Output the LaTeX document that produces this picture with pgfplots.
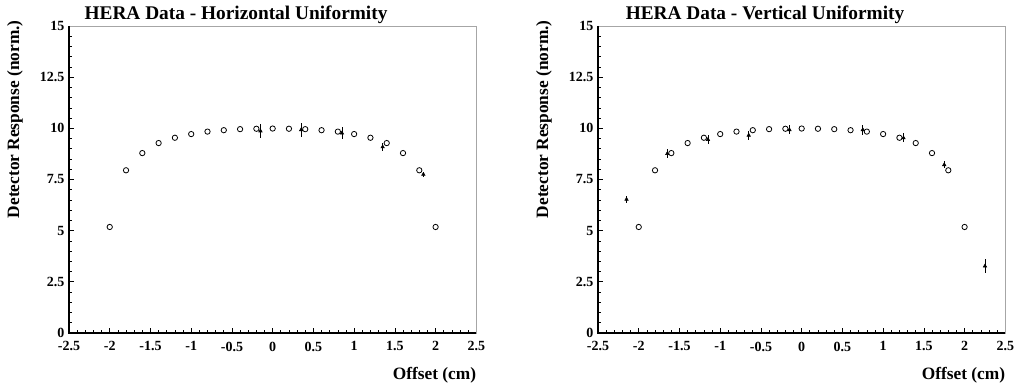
\documentclass[border=0pt]{standalone}
\usepackage{pgfplots}
\pgfplotsset{compat=1.18}
\usepackage{fontspec}
\setmainfont{Liberation Serif}

\tikzset{plottitle/.style={anchor=base, inner sep=0pt, font=\fontsize{14.5}{16}\selectfont\bfseries}}

\pgfplotsset{
  herastyle/.style={
    scale only axis,
    width=305.5pt, height=230.25pt,
    xmin=-2.5, xmax=2.5, ymin=0, ymax=15,
    xtick={-2.5,-2,-1.5,-1,-0.5,0,0.5,1,1.5,2,2.5},
    xticklabels={-2.5,-2,-1.5,-1,-0.5,0,0.5,1,1.5,2,2.5},
    ytick={0,2.5,5,7.5,10,12.5,15},
    yticklabels={0,2.5,5,7.5,10,12.5,15},
    minor x tick num=4, minor y tick num=4,
    tick align=inside, xtick pos=bottom, ytick pos=left,
    major tick length=3.5pt, minor tick length=2pt,
    every tick/.style={black, line width=0.5pt},
    tick label style={font=\fontsize{10.5}{12}\selectfont\bfseries},
    xticklabel style={yshift=-3pt},
    axis line style={gray!70, line width=0.6pt},
    label style={font=\fontsize{13}{15}\selectfont\bfseries},
    xlabel={Offset (cm)},
    xlabel style={at={([yshift=-35.25pt]rel axis cs:1,0)}, anchor=base east, inner sep=0pt},
    ylabel={Detector Response (norm.)},
    ylabel style={at={([xshift=-34.5pt,yshift=4.5pt]rel axis cs:0,1)}, anchor=south east, inner sep=0pt},
    clip=false,
  },
  simplot/.style={only marks, mark=o, mark size=2pt, black, mark options={line width=0.6pt}},
  meas/.style={only marks, mark=triangle*, mark size=1.5pt, black,
    error bars/.cd, y dir=both, y explicit, error mark=none,
    error bar style={line width=0.6pt, black}},
}

\begin{document}
\begin{tikzpicture}
\useasboundingbox (0,0) rectangle (760.5pt,288.75pt);

% ---- horizontal scan ----
\begin{axis}[herastyle, at={(51.75pt,39pt)}, anchor=south west]
\addplot[simplot] table {
-2.0 5.18
-1.8 7.95
-1.6 8.79
-1.4 9.28
-1.2 9.54
-1.0 9.72
-0.8 9.84
-0.6 9.91
-0.4 9.96
-0.2 9.98
 0.0 9.99
 0.2 9.98
 0.4 9.96
 0.6 9.91
 0.8 9.84
 1.0 9.72
 1.2 9.54
 1.4 9.28
 1.6 8.79
 1.8 7.95
 2.0 5.18
};
\addplot[meas] table[y error index=2] {
-0.15 9.87 0.33
 0.35 9.93 0.33
 0.85 9.77 0.30
 1.35 9.09 0.20
 1.85 7.75 0.12
};
\draw[black, line width=1pt] (rel axis cs:0,1) -- (rel axis cs:0,0) -- (rel axis cs:1,0);
\node[plottitle] at ([yshift=5pt]rel axis cs:0.41,1) {HERA Data - Horizontal Uniformity};
\end{axis}

% ---- vertical scan ----
\begin{axis}[herastyle, at={(448.5pt,39pt)}, anchor=south west]
\addplot[simplot] table {
-2.0 5.18
-1.8 7.95
-1.6 8.79
-1.4 9.28
-1.2 9.54
-1.0 9.72
-0.8 9.84
-0.6 9.91
-0.4 9.96
-0.2 9.98
 0.0 9.99
 0.2 9.98
 0.4 9.96
 0.6 9.91
 0.8 9.84
 1.0 9.72
 1.2 9.54
 1.4 9.28
 1.6 8.79
 1.8 7.95
 2.0 5.18
};
\addplot[meas] table[y error index=2] {
-2.15 6.53 0.17
-1.65 8.76 0.23
-1.15 9.45 0.20
-0.65 9.66 0.23
-0.15 9.93 0.21
 0.75 9.93 0.25
 1.25 9.53 0.22
 1.75 8.22 0.16
 2.25 3.27 0.33
};
\draw[black, line width=1pt] (rel axis cs:0,1) -- (rel axis cs:0,0) -- (rel axis cs:1,0);
\node[plottitle] at ([yshift=5pt]rel axis cs:0.41,1) {HERA Data - Vertical Uniformity};
\end{axis}
\end{tikzpicture}
\end{document}
